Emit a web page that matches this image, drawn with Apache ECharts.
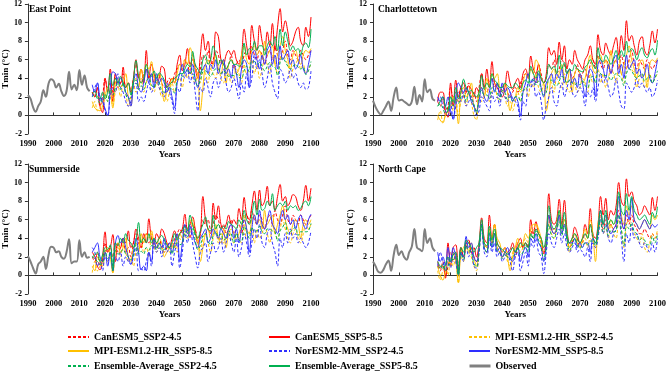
<!DOCTYPE html>
<html>
<head>
<meta charset="utf-8">
<script src="https://cdn.jsdelivr.net/npm/echarts@6.0.0/dist/echarts.min.js"></script>
<style>
  html, body { margin: 0; padding: 0; background: #fff; }
  #chart { width: 669px; height: 378px; }
</style>
</head>
<body>
<div id="chart"></div>
<script>
// years: observed 1990-2014, projections 2015-2100 (one value per year)
const OBS_START = 1990
const PROJ_START = 2015

const stations = ['East Point', 'Charlottetown', 'Summerside', 'North Cape']
const runNames = [
  'CanESM5_SSP2-4.5', 'CanESM5_SSP5-8.5',
  'MPI-ESM1.2-HR_SSP2-4.5', 'MPI-ESM1.2-HR_SSP5-8.5',
  'NorESM2-MM_SSP2-4.5', 'NorESM2-MM_SSP5-8.5',
  'Ensemble-Average_SSP2-4.5', 'Ensemble-Average_SSP5-8.5'
]
const obsName = 'Observed'

// ---------- East Point ----------
const epObs = [2.2, 1.8, 0.9, 0.4, 1.0, 1.5, 2.7, 2.0, 3.4, 3.9,
  3.7, 3.0, 3.4, 2.6, 2.1, 2.6, 4.7, 2.8, 3.3, 2.7,
  4.9, 3.3, 4.3, 3.0, 2.6]
const epCan245 = [2.5, 2.0, 3.0, 1.0, 2.0, 4.0, 3.0, 3.5, 2.5, 4.0,
  3.0, 3.5, 4.5, 3.0, 3.5, 2.5, 4.0, 5.5, 4.0, 3.5,
  4.5, 5.0, 4.0, 4.5, 3.5, 4.0, 4.5, 3.5, 3.0, 3.5,
  4.0, 3.5, 4.5, 5.0, 5.5, 5.0, 6.0, 5.5, 4.5, 6.5,
  5.5, 4.5, 5.0, 6.5, 6.0, 7.0, 5.5, 6.0, 7.0, 6.5,
  5.5, 6.0, 5.0, 5.5, 6.5, 5.0, 5.5, 6.0, 5.0, 6.5,
  7.0, 6.0, 7.5, 6.5, 6.0, 7.0, 6.5, 5.5, 6.5, 7.0,
  6.0, 7.5, 6.5, 6.0, 7.0, 8.0, 6.5, 6.0, 7.0, 6.5,
  6.0, 7.0, 6.5, 6.0, 6.5, 7.0]
const epCan585 = [2.5, 2.0, 3.0, 1.0, 0.3, 4.0, 2.5, 5.0, 1.5, 4.5,
  3.5, 3.5, 5.2, 3.0, 3.5, 2.5, 4.0, 6.0, 4.0, 5.0,
  3.5, 7.0, 4.0, 5.5, 4.5, 3.5, 4.0, 5.3, 5.0, 3.0,
  3.5, 4.0, 3.5, 5.5, 6.5, 4.8, 5.5, 7.2, 5.5, 6.0,
  5.0, 4.0, 6.5, 8.8, 7.0, 8.0, 6.0, 5.5, 9.0, 8.5,
  6.0, 5.5, 6.5, 7.0, 6.5, 7.0, 6.0, 5.5, 6.5, 9.3,
  7.5, 6.0, 9.7, 8.0, 7.0, 9.7, 8.0, 7.0, 9.0, 7.5,
  9.9, 7.0, 9.5, 11.5, 9.0, 10.2, 9.0, 7.5, 8.0, 9.0,
  9.5, 8.0, 7.5, 9.5, 8.5, 10.6]
const epMpi245 = [0.8, 1.5, 0.5, 0.8, 1.5, 2.5, 1.5, 3.0, 1.0, 2.5,
  3.0, 2.0, 3.5, 2.5, 1.0, 2.0, 3.5, 2.5, 3.0, 4.0,
  2.5, 3.5, 4.5, 3.0, 2.5, 3.5, 3.0, 2.0, 2.5, 1.5,
  2.5, 3.5, 2.5, 3.5, 4.0, 3.0, 4.5, 4.0, 5.5, 4.0,
  3.5, 4.5, 3.5, 5.0, 4.5, 3.5, 5.0, 4.5, 4.0, 5.5,
  4.0, 3.5, 5.0, 4.5, 3.5, 4.0, 5.0, 4.5, 3.5, 5.5,
  4.5, 5.0, 6.0, 4.5, 5.5, 4.0, 5.0, 6.0, 5.5, 4.5,
  6.5, 5.5, 4.5, 6.0, 7.0, 6.0, 5.5, 4.0, 5.0, 5.5,
  6.0, 5.0, 5.5, 4.5, 5.0, 5.5]
const epMpi585 = [1.5, 0.8, 0.6, 0.5, 1.0, 2.0, 3.0, 2.5, 0.8, 3.5,
  4.0, 3.0, 3.5, 4.5, 2.0, 1.0, 3.5, 4.0, 3.0, 5.0,
  4.0, 5.5, 5.0, 5.8, 4.0, 3.5, 4.5, 3.5, 1.5, 2.5,
  3.0, 4.0, 3.5, 4.5, 5.5, 5.0, 6.0, 5.5, 7.3, 6.5,
  5.0, 4.5, 0.5, 3.0, 5.5, 6.0, 5.0, 5.5, 6.5, 5.0,
  4.5, 6.0, 3.5, 5.5, 6.0, 5.5, 4.5, 5.0, 6.5, 7.5,
  6.0, 5.5, 7.0, 7.5, 6.5, 7.0, 6.0, 8.0, 6.5, 7.0,
  7.5, 5.5, 6.5, 7.5, 8.5, 7.0, 6.0, 5.0, 6.5, 7.0,
  6.0, 5.5, 6.5, 7.0, 6.8, 7.2]
const epNor245 = [2.0, 3.0, 3.5, 1.5, 2.0, 0.5, 0.0, 2.0, 3.0, 2.5,
  4.5, 3.0, 2.5, 1.5, 1.0, 1.5, 3.0, 3.5, 1.5, 2.0,
  1.5, 2.5, 3.5, 2.5, 3.0, 4.0, 3.0, 2.5, 2.0, 3.5,
  2.5, 1.5, 0.2, 3.0, 2.5, 4.5, 4.0, 5.0, 3.5, 4.5,
  2.5, 0.5, 3.0, 2.5, 4.0, 3.0, 2.0, 3.5, 4.0, 3.0,
  4.0, 5.0, 3.5, 2.5, 3.0, 4.0, 3.0, 1.8, 3.5, 2.5,
  4.5, 3.0, 4.0, 6.5, 5.0, 6.0, 4.5, 3.0, 4.0, 5.5,
  3.5, 2.5, 1.8, 5.0, 4.5, 3.5, 4.0, 5.0, 4.0, 4.5,
  3.5, 3.0, 3.5, 2.8, 3.0, 4.8]
const epNor585 = [3.3, 2.5, 3.5, 2.0, 1.5, 0.7, 0.0, 3.0, 4.7, 4.5,
  3.5, 4.0, 3.5, 2.5, 2.0, 1.0, 3.5, 4.5, 3.0, 2.5,
  3.5, 5.0, 3.5, 4.5, 3.0, 4.5, 3.5, 4.0, 3.5, 2.5,
  3.0, 2.0, 0.8, 3.5, 4.5, 5.5, 4.5, 5.0, 4.5, 5.5,
  4.0, 3.0, 4.5, 5.0, 5.5, 4.5, 5.5, 5.0, 6.0, 4.5,
  5.5, 6.0, 4.5, 5.0, 4.0, 5.5, 4.5, 3.0, 5.0, 6.0,
  5.5, 3.0, 6.5, 7.0, 6.0, 5.0, 6.5, 5.5, 7.0, 7.5,
  5.5, 6.5, 5.0, 7.5, 6.0, 6.5, 7.0, 5.5, 6.0, 5.0,
  5.5, 6.5, 5.0, 4.5, 5.5, 7.0]
const epEns245 = [2.0, 2.2, 1.8, 1.3, 1.8, 2.3, 1.5, 2.8, 2.2, 3.0,
  3.5, 2.8, 3.5, 2.3, 1.8, 2.0, 3.5, 3.8, 2.8, 3.2,
  2.8, 3.7, 4.0, 3.3, 3.0, 3.8, 3.5, 2.7, 2.5, 2.8,
  3.0, 2.8, 2.4, 3.8, 4.0, 4.2, 4.8, 4.8, 4.5, 5.0,
  3.8, 3.2, 3.8, 4.7, 4.8, 4.5, 4.2, 4.7, 5.0, 5.0,
  4.5, 4.8, 4.5, 4.2, 4.3, 4.3, 4.5, 4.1, 4.0, 4.8,
  5.3, 4.7, 5.8, 5.8, 5.5, 5.7, 5.3, 4.8, 5.3, 5.7,
  5.3, 5.2, 4.3, 5.7, 6.2, 5.8, 5.3, 5.0, 5.3, 5.5,
  5.2, 5.0, 5.2, 4.4, 4.8, 5.8]
const epEns585 = [2.3, 2.6, 2.0, 1.8, 2.5, 1.8, 2.5, 4.5, 3.2, 4.0,
  3.5, 4.2, 3.5, 3.0, 3.5, 2.2, 3.8, 5.9, 4.3, 3.5,
  4.0, 5.5, 4.5, 4.2, 4.8, 4.0, 4.6, 4.3, 3.8, 3.0,
  3.3, 3.6, 4.0, 4.2, 4.5, 4.5, 5.0, 5.5, 5.2, 6.9,
  5.5, 5.0, 4.5, 6.0, 6.5, 5.5, 6.0, 7.5, 6.5, 5.5,
  6.0, 5.5, 5.0, 5.5, 6.0, 5.5, 5.5, 5.3, 5.5, 7.8,
  6.5, 7.2, 7.0, 8.0, 7.0, 7.5, 7.5, 6.5, 7.5, 8.0,
  7.5, 8.5, 7.0, 9.3, 7.5, 9.0, 8.0, 7.0, 7.5, 7.0,
  7.2, 6.5, 7.5, 7.8, 7.3, 9.3]

// ---------- Charlottetown ----------
const chObs = [1.6, 0.9, 0.4, 0.1, 0.5, 1.0, 1.5, 0.5, 2.0, 3.0,
  1.6, 1.7, 1.5, 1.3, 1.1, 1.5, 3.1, 1.2, 2.2, 1.5,
  3.9, 2.5, 2.8, 1.8, 1.6]
const chCan245 = [1.5, 1.0, 2.0, 0.0, 1.0, 3.0, 2.0, 2.5, 1.5, 3.0,
  2.0, 2.5, 3.5, 2.0, 2.5, 1.5, 3.0, 4.5, 3.0, 2.5,
  3.5, 4.0, 3.0, 3.5, 2.5, 3.0, 3.5, 2.5, 2.0, 2.5,
  3.0, 2.5, 3.5, 4.0, 4.5, 4.0, 5.0, 4.5, 3.5, 5.5,
  4.5, 3.5, 4.0, 5.5, 5.0, 6.0, 4.5, 5.0, 6.0, 5.5,
  4.5, 5.0, 4.0, 4.5, 5.5, 4.0, 4.5, 5.0, 4.0, 5.5,
  6.0, 5.0, 6.5, 5.5, 5.0, 6.0, 5.5, 4.5, 5.5, 6.0,
  5.0, 6.5, 5.5, 5.0, 6.0, 7.0, 5.5, 5.0, 6.0, 5.5,
  5.0, 6.0, 5.5, 5.0, 5.5, 6.0]
const chCan585 = [1.5, 2.5, 2.5, 0.5, -0.2, 3.5, 1.0, 3.8, 2.0, 3.0,
  3.5, 2.5, 3.2, 2.8, 2.0, 3.0, 2.5, 4.5, 3.0, 5.0,
  3.0, 5.8, 3.5, 3.0, 2.5, 2.0, 3.0, 4.8, 3.5, 2.8,
  3.5, 4.0, 3.0, 4.5, 5.0, 4.0, 6.4, 5.0, 4.5, 5.5,
  4.0, 3.5, 4.5, 7.3, 6.5, 7.0, 5.5, 7.9, 6.0, 7.5,
  5.0, 6.0, 5.5, 7.0, 6.0, 5.5, 5.0, 6.0, 6.5, 7.5,
  6.0, 5.5, 8.7, 7.0, 6.5, 7.8, 7.0, 6.5, 7.5, 8.4,
  6.5, 8.6, 7.0, 10.2, 8.0, 8.6, 7.5, 6.5, 8.0, 8.5,
  7.0, 6.5, 7.5, 9.1, 7.8, 9.3]
const chMpi245 = [-0.5, 0.5, -0.7, 0.0, 0.5, 1.5, 0.5, 2.0, 0.0, 1.5,
  2.0, 1.0, 2.5, 1.5, 0.0, -0.5, 2.5, 1.5, 2.0, 3.0,
  1.5, 2.5, 3.5, 2.0, 1.5, 2.5, 2.0, 1.0, 1.5, 0.5,
  1.5, 2.5, 1.5, 2.5, 3.0, 2.0, 3.5, 3.0, 4.5, 3.0,
  2.5, 3.5, 2.5, 4.0, 3.5, 2.5, 4.0, 3.5, 3.0, 4.5,
  3.0, 2.5, 4.0, 3.5, 2.5, 3.0, 4.0, 3.5, 2.5, 4.5,
  3.5, 4.0, 5.0, 3.5, 4.5, 3.0, 4.0, 5.0, 4.5, 3.5,
  5.5, 4.5, 3.5, 5.0, 6.0, 5.0, 4.5, 3.0, 4.0, 4.5,
  3.0, 3.5, 4.5, 3.5, 4.0, 4.5]
const chMpi585 = [0.0, -0.5, -0.8, 0.0, 0.5, 1.0, 2.0, 1.5, -0.9, 2.5,
  3.0, 2.0, 2.5, 3.5, 1.0, 0.5, 2.5, 3.0, 2.0, 4.0,
  3.0, 4.5, 4.0, 4.5, 3.0, 2.5, 3.5, 2.5, 0.5, 1.5,
  2.0, 3.0, 2.5, 3.5, 4.5, 4.0, 5.0, 4.5, 6.0, 5.5,
  4.0, 3.5, 0.5, 2.0, 4.5, 5.0, 4.0, 4.5, 5.5, 4.0,
  3.5, 5.0, 2.5, 4.5, 5.0, 4.5, 3.5, 4.0, 5.5, 6.5,
  5.0, 4.5, 6.0, 6.5, 5.5, 6.0, 5.0, 7.0, 5.5, 6.0,
  6.5, 4.5, 5.5, 6.5, 7.5, 6.0, 5.0, 4.0, 5.5, 6.0,
  5.0, 3.0, 5.5, 6.0, 5.8, 6.2]
const chNor245 = [1.5, 2.0, 1.0, 0.5, 0.0, 1.5, -0.5, 1.0, 2.5, 1.5,
  2.5, 1.0, 1.5, 2.0, 1.0, 0.0, 0.5, 2.0, 1.5, 1.0,
  0.5, 2.5, 1.5, 2.0, 1.0, 2.5, 2.0, 1.5, 2.5, 1.8,
  1.5, 1.0, -0.5, 1.5, 1.0, 3.5, 3.0, 3.8, 2.0, 2.5,
  1.5, -0.5, 1.0, 2.0, 3.0, 1.5, 1.0, 2.5, 3.5, 2.0,
  3.0, 3.8, 2.5, 2.0, 2.5, 3.0, 2.5, 1.0, 2.5, 2.0,
  3.0, 1.5, 3.0, 4.5, 3.5, 4.0, 3.0, 2.0, 2.5, 4.0,
  2.5, 1.0, 0.7, 3.5, 3.0, 2.5, 3.0, 4.0, 3.0, 3.5,
  3.0, 2.5, 3.0, 2.0, 2.5, 3.8]
const chNor585 = [2.0, 1.5, 2.0, 1.0, 2.0, 0.5, -0.3, 2.0, 3.5, 3.0,
  2.5, 3.0, 2.5, 1.5, 1.0, 0.5, 1.5, 3.0, 2.0, 1.5,
  2.5, 4.0, 2.5, 3.5, 2.0, 3.5, 2.5, 3.0, 2.5, 1.5,
  2.0, 1.5, 0.0, 2.5, 3.5, 4.5, 3.5, 4.0, 3.5, 4.5,
  3.0, 2.0, 3.5, 4.0, 4.5, 3.5, 4.5, 4.0, 5.0, 3.5,
  4.5, 5.0, 3.5, 4.0, 3.0, 4.5, 3.5, 2.0, 4.0, 5.0,
  4.5, 2.0, 5.5, 6.0, 5.0, 4.0, 5.5, 4.5, 6.0, 6.5,
  4.5, 5.5, 4.0, 6.5, 5.0, 5.5, 6.0, 4.5, 5.0, 4.0,
  4.5, 5.5, 4.0, 3.5, 4.5, 6.0]
const chEns245 = [1.0, 1.2, 0.8, 0.2, 0.5, 2.0, 1.0, 1.8, 1.3, 2.0,
  2.2, 1.5, 2.5, 1.8, 1.2, 0.3, 2.0, 2.7, 2.2, 2.2,
  1.8, 3.0, 2.7, 2.5, 1.7, 2.7, 2.5, 1.7, 2.0, 1.6,
  2.0, 2.0, 1.5, 2.7, 2.8, 3.2, 3.8, 3.8, 3.3, 3.7,
  2.8, 2.2, 2.5, 3.8, 3.8, 3.3, 3.2, 3.7, 4.2, 4.0,
  3.5, 3.8, 3.5, 3.3, 3.5, 3.3, 3.7, 3.2, 3.0, 4.0,
  4.2, 3.5, 4.8, 4.5, 4.3, 4.3, 4.2, 3.8, 4.2, 4.5,
  4.3, 4.0, 3.2, 4.5, 5.0, 4.8, 4.3, 4.0, 4.3, 4.5,
  3.7, 4.0, 4.3, 3.5, 4.0, 4.8]
const chEns585 = [1.0, 1.5, 2.0, 1.0, 0.5, 2.0, 1.5, 3.0, 1.8, 2.5,
  3.9, 3.0, 2.5, 2.7, 2.3, 2.0, 2.5, 4.3, 2.8, 3.5,
  3.0, 4.5, 3.8, 3.5, 3.0, 3.0, 3.5, 3.2, 3.0, 3.0,
  3.5, 3.2, 2.8, 3.5, 3.8, 3.5, 5.3, 4.5, 4.0, 4.8,
  4.0, 3.5, 4.0, 5.5, 5.0, 5.3, 4.5, 6.5, 5.0, 5.7,
  4.5, 5.0, 4.8, 5.5, 5.0, 4.8, 4.7, 5.2, 5.5, 6.0,
  5.5, 5.0, 7.3, 6.0, 5.8, 6.5, 6.0, 5.5, 6.2, 7.0,
  6.0, 7.0, 6.3, 8.0, 6.8, 7.2, 6.8, 6.0, 6.8, 7.3,
  6.5, 6.2, 6.8, 7.2, 6.5, 8.1]

// ---------- Summerside ----------
const ssObs = [2.1, 1.5, 0.8, 0.2, 1.2, 1.5, 2.0, 0.7, 2.2, 3.1,
  3.0, 2.5, 2.6, 2.0, 1.8, 2.5, 3.9, 1.3, 1.5, 1.5,
  3.8, 2.0, 2.5, 1.9, 2.0]
const ssCan245 = [2.0, 1.5, 2.5, 1.0, 1.5, 3.5, 2.5, 3.0, 2.0, 3.5,
  2.5, 3.0, 4.0, 2.5, 3.0, 2.0, 3.5, 4.5, 3.5, 3.0,
  4.0, 4.5, 3.5, 4.0, 3.0, 3.5, 4.0, 3.0, 2.5, 3.0,
  3.5, 3.0, 4.0, 4.5, 5.0, 4.5, 5.5, 5.0, 4.0, 5.5,
  5.0, 4.0, 4.5, 6.0, 5.5, 6.0, 5.0, 5.5, 6.5, 6.0,
  5.0, 5.5, 4.5, 5.0, 6.0, 4.5, 5.0, 5.5, 4.5, 6.0,
  6.5, 5.5, 7.0, 6.0, 5.5, 6.5, 6.0, 5.0, 6.0, 6.5,
  5.5, 7.0, 6.0, 5.5, 6.5, 7.5, 6.0, 5.5, 6.5, 6.0,
  5.5, 6.5, 6.0, 5.5, 6.0, 6.5]
const ssCan585 = [2.5, 2.0, 1.0, 0.6, 2.0, 4.7, 2.5, 3.0, 4.4, 1.5,
  3.5, 3.0, 4.0, 3.5, 4.8, 3.0, 3.5, 5.0, 4.0, 3.0,
  4.5, 3.5, 6.1, 4.0, 3.5, 4.5, 4.0, 5.0, 4.5, 3.5,
  3.0, 4.0, 4.8, 4.0, 4.5, 5.0, 6.6, 5.0, 5.5, 6.3,
  5.0, 3.5, 4.5, 8.5, 6.0, 5.0, 4.5, 7.8, 6.0, 7.5,
  5.5, 5.0, 5.5, 6.5, 5.5, 6.0, 5.5, 7.2, 6.0, 8.4,
  6.5, 6.0, 7.5, 9.1, 7.0, 9.2, 7.5, 8.0, 9.6, 7.5,
  8.0, 7.0, 8.5, 9.8, 8.0, 8.5, 7.5, 8.0, 8.7, 8.5,
  7.5, 7.0, 8.0, 9.7, 8.0, 9.4]
const ssMpi245 = [0.3, 1.5, 0.5, 1.0, 2.0, 2.5, 1.5, 2.0, 0.2, 2.5,
  3.0, 2.0, 3.5, 2.5, 1.5, 2.0, 1.0, 2.5, 3.0, 4.0,
  2.5, 3.0, 2.0, 4.5, 3.0, 2.5, 3.5, 3.0, 2.5, 3.5,
  2.5, 3.0, 3.5, 2.5, 4.0, 3.5, 4.5, 4.0, 5.0, 6.0,
  4.5, 3.5, 2.5, 4.0, 4.5, 3.5, 2.5, 4.0, 5.0, 3.5,
  4.5, 3.5, 4.0, 5.0, 4.0, 3.5, 4.5, 4.0, 3.5, 5.5,
  4.0, 4.5, 5.0, 3.5, 5.0, 4.0, 4.5, 5.5, 4.5, 3.5,
  5.5, 4.5, 4.0, 5.0, 6.0, 5.0, 4.0, 3.5, 4.5, 5.0,
  4.0, 3.5, 4.5, 5.5, 5.0, 5.5]
const ssMpi585 = [1.0, 0.5, 2.0, 1.5, 1.0, 2.5, 3.0, 2.0, 0.3, 3.0,
  3.5, 2.5, 3.0, 4.0, 2.0, 1.5, 3.0, 3.5, 2.5, 4.5,
  3.5, 4.5, 4.0, 4.8, 3.5, 3.0, 4.0, 3.5, 2.0, 2.5,
  3.0, 3.5, 3.0, 4.0, 4.5, 4.0, 5.0, 4.5, 6.0, 5.5,
  4.5, 4.0, 1.5, 3.0, 4.5, 5.0, 4.0, 4.5, 5.5, 4.0,
  3.5, 5.0, 3.0, 4.5, 5.0, 4.5, 4.0, 4.5, 5.5, 6.5,
  5.0, 4.5, 6.0, 6.5, 5.5, 6.0, 5.0, 7.0, 5.5, 6.0,
  6.5, 4.5, 5.5, 6.5, 7.5, 6.0, 5.0, 4.5, 5.5, 6.0,
  5.5, 4.0, 5.5, 6.0, 5.5, 6.0]
const ssNor245 = [3.0, 2.5, 1.0, 1.5, 0.5, 2.0, 1.5, 2.5, 1.0, 2.0,
  1.5, 2.5, 1.0, 2.0, 1.5, 1.2, 2.0, 3.0, 0.5, 0.7,
  0.5, 1.5, 2.5, 1.0, 3.5, 2.5, 3.0, 2.0, 3.5, 2.5,
  3.0, 1.0, 2.5, 3.5, 0.8, 2.5, 4.5, 3.5, 5.5, 3.5,
  2.0, 0.8, 2.5, 3.0, 3.5, 1.5, 2.5, 3.5, 2.5, 3.0,
  4.0, 2.5, 3.5, 4.5, 3.5, 2.5, 4.0, 2.0, 3.0, 4.5,
  3.5, 2.0, 3.5, 5.0, 4.0, 5.5, 3.5, 3.0, 4.5, 5.0,
  3.5, 2.5, 1.0, 4.0, 3.0, 4.5, 3.5, 5.0, 4.0, 4.5,
  3.5, 4.0, 3.5, 3.0, 3.5, 4.8]
const ssNor585 = [2.5, 3.0, 3.5, 2.0, 1.5, 2.5, 1.0, 2.5, 0.5, 3.5,
  4.3, 3.5, 4.0, 3.0, 2.0, 1.2, 2.5, 4.0, 2.5, 0.6,
  1.0, 0.5, 2.5, 1.5, 4.0, 3.0, 3.5, 3.0, 4.0, 3.0,
  3.5, 2.5, 3.5, 4.5, 1.5, 3.5, 5.5, 4.5, 5.3, 4.5,
  3.5, 3.0, 4.0, 4.5, 5.0, 3.5, 4.0, 5.0, 4.5, 4.0,
  5.0, 4.5, 4.0, 5.0, 5.5, 4.0, 5.0, 3.5, 5.0, 6.0,
  5.0, 2.5, 5.0, 6.5, 5.5, 7.0, 5.5, 5.0, 6.0, 7.0,
  5.5, 5.0, 4.5, 6.0, 7.0, 6.0, 6.5, 5.5, 6.0, 5.0,
  6.0, 6.5, 5.5, 5.0, 6.0, 6.6]
const ssEns245 = [2.0, 1.8, 1.5, 1.2, 1.3, 2.7, 1.8, 2.5, 1.1, 2.7,
  2.3, 2.5, 2.8, 2.3, 2.0, 1.7, 2.2, 3.3, 2.3, 2.6,
  2.3, 3.0, 2.7, 3.2, 3.2, 2.8, 3.5, 2.7, 2.8, 3.0,
  3.0, 2.3, 3.3, 3.5, 3.3, 3.5, 4.8, 4.2, 4.8, 5.0,
  3.8, 2.8, 3.2, 4.3, 4.5, 3.7, 3.3, 4.3, 4.7, 4.2,
  4.5, 3.8, 4.0, 4.8, 4.5, 3.5, 4.5, 3.8, 3.7, 5.3,
  4.7, 4.0, 5.2, 4.8, 4.8, 5.3, 4.7, 4.5, 5.0, 5.0,
  4.8, 4.7, 3.7, 4.8, 5.2, 5.7, 4.5, 4.7, 5.0, 5.2,
  4.3, 4.7, 4.7, 4.7, 4.8, 5.6]
const ssEns585 = [2.0, 2.2, 2.5, 1.5, 2.2, 3.0, 2.8, 3.3, 0.5, 3.5,
  3.2, 4.0, 3.5, 4.5, 3.8, 3.5, 3.0, 3.8, 5.7, 3.5,
  4.0, 3.5, 4.5, 3.5, 4.0, 3.5, 4.0, 4.3, 3.8, 3.3,
  3.0, 3.5, 4.5, 3.8, 4.5, 4.8, 5.3, 4.8, 6.5, 5.5,
  4.5, 4.0, 4.8, 5.5, 6.3, 5.0, 4.8, 6.5, 5.0, 5.5,
  5.0, 5.3, 5.0, 5.8, 5.5, 5.3, 5.0, 6.0, 5.5, 7.0,
  6.0, 5.5, 6.5, 8.0, 6.5, 8.2, 7.0, 7.2, 8.0, 7.5,
  8.8, 7.0, 7.5, 7.8, 7.5, 8.0, 7.0, 7.5, 7.3, 7.5,
  7.0, 7.2, 7.8, 8.0, 7.5, 8.5]

// ---------- North Cape ----------
const ncObs = [1.5, 1.0, 0.4, 0.3, 0.6, 1.2, 1.6, 0.5, 2.2, 3.3,
  2.2, 2.6, 2.0, 1.7, 2.5, 3.1, 5.0, 3.0, 2.8, 2.6,
  5.0, 3.5, 4.0, 3.0, 2.6]
const ncCan245 = [1.0, 0.5, 1.5, 0.0, 1.0, 2.5, 1.5, 2.5, 1.0, 3.0,
  2.0, 3.0, 3.5, 2.5, 2.0, 1.5, 3.0, 5.5, 3.5, 3.0,
  5.0, 3.5, 4.5, 3.0, 2.5, 2.0, 2.5, 2.0, 2.5, 3.0,
  2.0, 3.0, 3.5, 3.0, 3.5, 3.0, 5.0, 4.0, 5.0, 4.5,
  3.5, 2.5, 3.5, 6.5, 5.0, 5.0, 5.5, 6.5, 5.0, 6.0,
  4.5, 3.0, 3.5, 4.5, 4.0, 3.0, 3.5, 4.5, 4.0, 5.5,
  4.0, 3.5, 4.5, 6.5, 5.0, 6.0, 5.0, 5.5, 5.0, 5.5,
  7.0, 6.0, 5.0, 6.5, 5.5, 6.5, 5.5, 5.0, 4.5, 4.5,
  5.0, 4.5, 4.0, 4.5, 4.0, 4.5]
const ncCan585 = [1.5, 0.8, 1.0, -0.3, 3.5, 1.0, 3.0, 3.3, 0.5, 3.0,
  2.0, 3.5, 3.8, 2.5, 3.0, 2.0, 3.5, 6.2, 4.0, 3.5,
  6.5, 4.0, 5.5, 3.5, 3.0, 2.5, 3.0, 2.5, 2.8, 3.5,
  2.5, 3.5, 4.0, 3.0, 3.5, 3.0, 6.0, 4.5, 5.8, 4.5,
  4.0, 2.3, 4.0, 8.8, 6.0, 5.5, 6.0, 8.2, 5.5, 8.1,
  5.0, 3.5, 4.0, 5.2, 4.5, 3.5, 4.0, 5.5, 4.5, 7.2,
  4.5, 4.0, 5.5, 8.5, 6.5, 8.3, 6.0, 7.0, 6.5, 7.5,
  10.0, 8.0, 7.5, 10.4, 8.5, 9.0, 8.0, 7.5, 6.5, 6.8,
  7.5, 7.0, 6.5, 8.4, 7.0, 8.5]
const ncMpi245 = [0.5, -0.5, 0.5, 1.0, 0.0, 2.0, 1.0, 2.0, -0.8, 2.0,
  1.5, 3.0, 2.5, 2.0, 1.0, 0.5, 2.5, 5.5, 3.0, 2.5,
  5.0, 3.5, 5.5, 3.0, 2.5, 2.0, 2.5, 1.5, 1.0, 2.5,
  3.0, 3.5, 2.5, 3.0, 4.0, 3.5, 4.5, 5.0, 5.5, 4.5,
  3.5, 2.5, 3.0, 5.5, 4.5, 4.0, 5.0, 6.0, 4.5, 5.5,
  4.0, 2.5, 3.5, 4.0, 3.5, 3.0, 3.5, 4.0, 3.0, 4.0,
  3.5, 3.0, 5.0, 5.5, 4.5, 5.0, 4.0, 5.5, 4.5, 4.0,
  6.0, 5.0, 3.0, 5.5, 6.0, 5.0, 4.5, 4.0, 3.5, 4.5,
  3.0, 2.5, 3.5, 4.5, 4.0, 5.0]
const ncMpi585 = [1.0, 0.0, -0.5, 0.5, 1.5, 1.0, 2.5, 1.5, -0.8, 2.5,
  3.0, 3.5, 2.5, 3.5, 2.0, 1.0, 3.0, 5.5, 3.5, 3.0,
  5.0, 4.0, 5.5, 4.0, 3.5, 2.5, 3.0, 2.0, 0.5, 2.0,
  3.0, 4.0, 3.0, 3.5, 4.5, 4.0, 5.0, 5.5, 5.5, 5.0,
  4.0, 3.0, 3.5, 6.5, 5.0, 4.5, 5.5, 7.0, 5.0, 6.0,
  4.5, 3.0, 4.0, 4.5, 3.5, 3.0, 4.0, 5.0, 4.0, 6.0,
  4.5, 1.5, 5.5, 7.0, 5.5, 6.5, 5.0, 6.0, 5.5, 6.0,
  8.0, 6.5, 5.5, 7.5, 6.5, 7.5, 6.0, 5.5, 5.0, 5.5,
  6.0, 5.5, 5.0, 6.5, 6.0, 6.5]
const ncNor245 = [1.0, 2.5, 1.5, 0.5, 2.0, 0.8, 2.5, 1.5, 0.0, 2.5,
  1.5, 3.5, 2.0, 3.0, 1.0, 0.8, 2.5, 5.0, 2.5, 2.0,
  4.0, 2.5, 3.5, 2.0, 2.5, 1.5, 2.0, 2.5, 1.5, 0.5,
  2.0, 2.5, 0.5, 1.5, 2.5, 1.0, 3.5, 3.0, 4.0, 2.5,
  2.0, 0.2, 2.5, 4.5, 3.5, 3.0, 4.0, 5.0, 3.5, 4.5,
  3.0, 2.5, 3.0, 3.5, 2.5, 2.8, 2.5, 2.0, 3.0, 1.5,
  3.5, 3.0, 4.0, 6.0, 4.5, 5.5, 4.0, 3.5, 4.5, 5.0,
  6.5, 4.0, 1.5, 4.5, 3.5, 5.5, 4.0, 4.5, 3.5, 3.0,
  3.5, 3.0, 2.5, 3.5, 2.5, 4.0]
const ncNor585 = [2.5, 1.5, 2.0, 1.0, 3.0, 1.5, 3.0, 2.0, 0.3, 2.5,
  2.0, 4.2, 3.0, 3.5, 2.0, 1.5, 3.0, 5.5, 3.0, 2.5,
  4.5, 3.0, 4.5, 2.5, 3.0, 2.0, 2.5, 3.0, 2.0, 1.5,
  2.5, 3.0, 1.5, 2.5, 3.0, 2.0, 4.0, 3.5, 4.5, 3.5,
  3.0, 1.5, 3.5, 6.5, 5.0, 4.5, 5.0, 6.5, 4.5, 5.5,
  4.0, 3.5, 3.5, 4.0, 3.0, 3.5, 3.0, 3.5, 3.5, 2.5,
  4.0, 3.5, 5.0, 7.0, 5.5, 6.5, 5.0, 4.5, 5.0, 5.5,
  8.5, 6.0, 5.0, 7.0, 6.0, 8.3, 6.0, 5.5, 5.0, 5.5,
  6.0, 5.5, 5.0, 5.5, 5.2, 5.5]
const ncEns245 = [1.0, 0.8, 1.2, 0.5, 1.0, 1.8, 1.7, 2.0, 0.0, 2.5,
  1.7, 3.2, 2.7, 2.5, 1.3, 0.9, 2.7, 5.3, 3.0, 2.5,
  4.7, 3.2, 4.5, 2.7, 2.5, 1.8, 2.3, 2.0, 1.7, 2.0,
  2.3, 3.0, 2.2, 2.5, 3.3, 2.5, 4.3, 4.0, 4.8, 3.8,
  3.0, 1.7, 3.0, 5.5, 4.3, 4.0, 4.8, 5.8, 4.3, 5.3,
  3.8, 2.7, 3.3, 4.0, 3.3, 2.9, 3.2, 3.5, 3.3, 3.7,
  3.7, 3.2, 4.5, 6.0, 4.7, 5.5, 4.3, 4.8, 4.7, 4.8,
  6.5, 5.0, 3.2, 5.5, 5.0, 5.7, 4.7, 4.5, 3.8, 4.0,
  3.8, 3.3, 3.3, 4.2, 3.5, 4.5]
const ncEns585 = [1.5, 1.0, 0.8, 1.2, 2.0, 1.5, 2.2, 2.5, 0.2, 3.0,
  2.5, 3.8, 3.5, 3.0, 2.5, 3.0, 3.5, 6.0, 3.5, 3.2,
  5.3, 3.8, 5.0, 3.5, 3.0, 2.8, 2.5, 2.3, 2.5, 3.0,
  2.5, 3.0, 3.5, 3.2, 3.5, 3.0, 4.5, 4.0, 5.0, 4.5,
  4.0, 3.0, 4.5, 7.5, 5.5, 5.0, 5.5, 7.0, 5.0, 6.8,
  4.5, 3.5, 4.0, 4.5, 4.0, 3.5, 4.0, 4.5, 4.0, 5.5,
  4.2, 3.5, 5.0, 7.0, 5.5, 7.0, 5.5, 6.0, 5.5, 6.5,
  9.0, 7.0, 6.5, 8.8, 7.0, 8.5, 7.0, 6.5, 6.0, 6.2,
  6.5, 6.0, 5.5, 6.8, 6.2, 7.4]

const panels = [
  { obs: epObs, runs: [epCan245, epCan585, epMpi245, epMpi585, epNor245, epNor585, epEns245, epEns585] },
  { obs: chObs, runs: [chCan245, chCan585, chMpi245, chMpi585, chNor245, chNor585, chEns245, chEns585] },
  { obs: ssObs, runs: [ssCan245, ssCan585, ssMpi245, ssMpi585, ssNor245, ssNor585, ssEns245, ssEns585] },
  { obs: ncObs, runs: [ncCan245, ncCan585, ncMpi245, ncMpi585, ncNor245, ncNor585, ncEns245, ncEns585] }
]

const runStyles = [
  { color: '#FF0000', type: [3, 2] },
  { color: '#FF0000', type: 'solid' },
  { color: '#FFC000', type: [3, 2] },
  { color: '#FFC000', type: 'solid' },
  { color: '#2E2EFF', type: [3, 2] },
  { color: '#2E2EFF', type: 'solid' },
  { color: '#00B050', type: [3, 2] },
  { color: '#00B050', type: 'solid' }
]

const FONT = "'Liberation Serif', 'Times New Roman', serif"
const grids = [
  { left: 24, top: 4, width: 287, height: 130 },
  { left: 373, top: 4, width: 287, height: 130 },
  { left: 24, top: 164, width: 287, height: 130 },
  { left: 373, top: 164, width: 287, height: 130 }
]

const toPairs = (start, values) => values.map((v, i) => [start + i, v])

const series = []
panels.forEach((p, gi) => {
  p.runs.forEach((vals, ri) => {
    series.push({
      name: runNames[ri],
      type: 'line',
      xAxisIndex: gi,
      yAxisIndex: gi,
      data: toPairs(PROJ_START, vals),
      symbol: 'none',
      smooth: 0.4,
      lineStyle: { width: 1, color: runStyles[ri].color, type: runStyles[ri].type },
      itemStyle: { color: runStyles[ri].color }
    })
  })
  series.push({
    name: obsName,
    type: 'line',
    xAxisIndex: gi,
    yAxisIndex: gi,
    data: toPairs(OBS_START, p.obs),
    symbol: 'none',
    smooth: 0.4,
    lineStyle: { width: 2, color: '#808080' },
    itemStyle: { color: '#808080' }
  })
})

const axisLine = { show: true, lineStyle: { color: '#333', width: 1 } }

const xAxes = grids.map((g, i) => ({
  type: 'value',
  gridIndex: i,
  min: 1990,
  max: 2100,
  interval: 10,
  name: 'Years',
  nameLocation: 'middle',
  nameGap: 16,
  nameTextStyle: { fontFamily: FONT, fontWeight: 'bold', fontSize: 9, color: '#000' },
  axisLine,
  axisTick: { show: true, inside: true, length: 3, lineStyle: { color: '#333' } },
  splitLine: { show: false },
  axisLabel: { fontFamily: FONT, fontWeight: 'bold', fontSize: 8.5, color: '#000', margin: 5, formatter: (v) => String(v) }
}))

const yAxes = grids.map((g, i) => ({
  type: 'value',
  gridIndex: i,
  min: -2,
  max: 12,
  interval: 2,
  name: 'Tmin (°C)',
  nameLocation: 'middle',
  nameRotate: 90,
  nameGap: 11,
  nameTextStyle: { fontFamily: FONT, fontWeight: 'bold', fontSize: 9, color: '#000' },
  axisLine,
  axisTick: { show: true, length: 3, lineStyle: { color: '#333' } },
  splitLine: { show: false },
  axisLabel: { fontFamily: FONT, fontWeight: 'bold', fontSize: 8, color: '#000', margin: 6 }
}))

// legend: 3 columns x 3 rows, one legend component per entry so columns line up
const legendOrder = [...runNames, obsName]
const legendCols = [67, 268, 468]
const legendRows = [332, 346, 361]
const legends = legendOrder.map((name, k) => ({
  left: legendCols[k % 3],
  top: legendRows[Math.floor(k / 3)],
  padding: 0,
  data: [name],
  itemWidth: 21,
  itemHeight: 10,
  selectedMode: false,
  itemStyle: { opacity: 0 },
  lineStyle: { width: name === obsName ? 3 : 2 },
  textStyle: { fontFamily: FONT, fontWeight: 'bold', fontSize: 10, color: '#000' }
}))

const chart = echarts.init(document.getElementById('chart'))
chart.setOption({
  animation: false,
  backgroundColor: '#fff',
  title: stations.map((s, i) => ({
    text: s,
    left: grids[i].left + 5,
    top: grids[i].top + 1,
    padding: 0,
    textStyle: { fontFamily: FONT, fontWeight: 'bold', fontSize: 9.5, color: '#000' }
  })),
  grid: grids,
  xAxis: xAxes,
  yAxis: yAxes,
  legend: legends,
  series
})
</script>
</body>
</html>
